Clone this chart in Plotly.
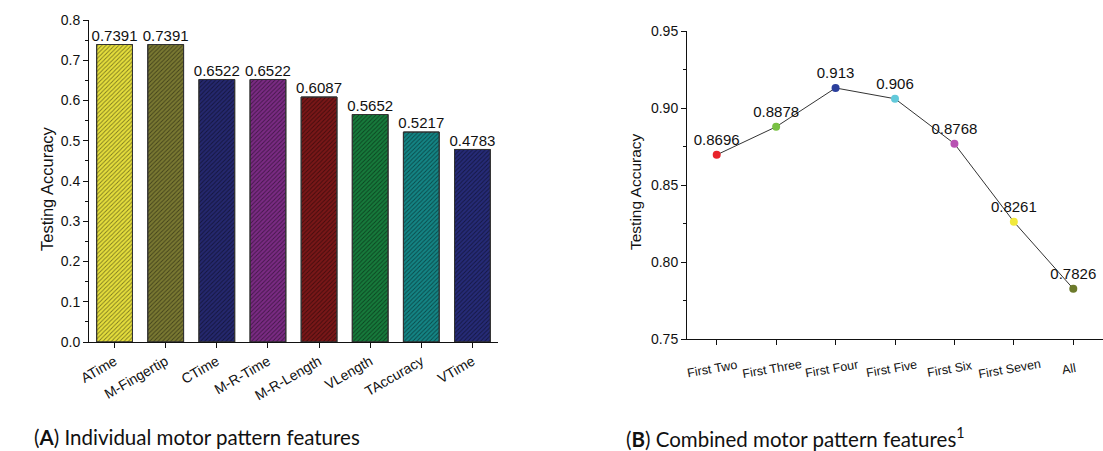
import plotly.graph_objects as go

# ---- Data ----
ind_features = ["ATime", "M-Fingertip", "CTime", "M-R-Time", "M-R-Length", "VLength", "TAccuracy", "VTime"]
ind_accuracy = [0.7391, 0.7391, 0.6522, 0.6522, 0.6087, 0.5652, 0.5217, 0.4783]
ind_colors = ["#e6df3c", "#7a7932", "#25286f", "#7b2b84", "#7a1718", "#177b3c", "#148585", "#262b78"]

comb_features = ["First Two", "First Three", "First Four", "First Five", "First Six", "First Seven", "All"]
comb_accuracy = [0.8696, 0.8878, 0.913, 0.906, 0.8768, 0.8261, 0.7826]
comb_colors = ["#e8232b", "#79c144", "#2b3f9c", "#62c9da", "#b851b2", "#f1e93c", "#6c7a2b"]

W, H = 1103, 451
def px_x(p): return p / W
def px_y(p): return 1 - p / H

FONT = "Liberation Sans, Arial, sans-serif"

fig = go.Figure()

# solid coloured bars
fig.add_trace(go.Bar(
    x=ind_features, y=ind_accuracy,
    marker=dict(color=ind_colors, line=dict(color="#333333", width=1)),
    width=0.7, showlegend=False, xaxis="x", yaxis="y",
))
# fine diagonal hatch laid over them
fig.add_trace(go.Bar(
    x=ind_features, y=ind_accuracy,
    marker=dict(color="rgba(0,0,0,0)", line=dict(color="#333333", width=1),
                pattern=dict(shape="/", bgcolor="rgba(0,0,0,0)", fgcolor="#000000", fgopacity=0.45,
                             size=3, solidity=0.3, fillmode="overlay")),
    width=0.7, showlegend=False, xaxis="x", yaxis="y", hoverinfo="skip",
))
fig.add_trace(go.Scatter(
    x=ind_features, y=ind_accuracy, mode="text",
    text=[f"{v:.4f}" for v in ind_accuracy], textposition="top center",
    textfont=dict(family=FONT, size=15, color="#111111"),
    cliponaxis=False, showlegend=False, xaxis="x", yaxis="y",
))

fig.add_trace(go.Scatter(
    x=comb_features, y=comb_accuracy, mode="lines+markers+text",
    line=dict(color="#333333", width=1),
    marker=dict(color=comb_colors, size=8),
    text=[str(v) for v in comb_accuracy], textposition="top center",
    textfont=dict(family=FONT, size=15, color="#111111"),
    cliponaxis=False, showlegend=False,
    xaxis="x2", yaxis="y2",
))

axis_common = dict(showline=True, linecolor="#111111", linewidth=1, mirror=False,
                   ticks="outside", tickcolor="#111111", ticklen=5, tickwidth=1,
                   tickfont=dict(family=FONT, size=14, color="#111111"),
                   zeroline=False, automargin=False)

# Centered, slightly rotated category labels for panel B
comb_label_annotations = [
    dict(text=name, x=name, y=0.75, xref="x2", yref="y2", xanchor="center", yanchor="middle",
         yshift=-30, xshift=-4, textangle=-10, showarrow=False,
         font=dict(family=FONT, size=12.5, color="#111111"))
    for name in comb_features
]

title_annotations = [
    dict(text="Testing Accuracy", x=px_x(47), y=px_y(189), xref="paper", yref="paper",
         xanchor="center", yanchor="middle", textangle=-90, showarrow=False,
         font=dict(family=FONT, size=16.5, color="#111111")),
    dict(text="Testing Accuracy", x=px_x(635), y=px_y(192), xref="paper", yref="paper",
         xanchor="center", yanchor="middle", textangle=-90, showarrow=False,
         font=dict(family=FONT, size=15.5, color="#111111")),
]

fig.update_layout(
    width=W, height=H,
    margin=dict(l=0, r=0, t=0, b=0),
    paper_bgcolor="white", plot_bgcolor="white",
    barmode="overlay",
    xaxis=dict(domain=[px_x(89), px_x(498)], anchor="y", range=[-0.5, 7.5],
               tickangle=-30, showgrid=False,
               minor=dict(ticks="outside", ticklen=3, tickcolor="#111111", tickwidth=1, showgrid=False),
               **axis_common),
    yaxis=dict(domain=[px_y(342), px_y(20)], anchor="x", range=[0, 0.8],
               dtick=0.1, tickformat=".1f", showgrid=False,
               minor=dict(dtick=0.05, ticks="outside", ticklen=3, tickcolor="#111111", tickwidth=1),
               **axis_common),
    xaxis2=dict(domain=[px_x(687), 1.0], anchor="y2", range=[-0.5, 6.5],
                showticklabels=False, showgrid=False,
                minor=dict(ticks="outside", ticklen=3, tickcolor="#111111", tickwidth=1,
                           showgrid=True, gridcolor="#e8e8e8", gridwidth=1),
                **axis_common),
    yaxis2=dict(domain=[px_y(339), px_y(31)], anchor="x2", range=[0.75, 0.95],
                dtick=0.05, tickformat=".2f", showgrid=False,
                minor=dict(dtick=0.025, ticks="outside", ticklen=3, tickcolor="#111111", tickwidth=1),
                **axis_common),
    annotations=comb_label_annotations + title_annotations + [
        dict(text="(<b>A</b>) Individual motor pattern features", x=px_x(32), y=px_y(437),
             xref="paper", yref="paper", xanchor="left", yanchor="middle", showarrow=False,
             font=dict(family="Lato, sans-serif", size=20.5, color="#111111")),
        dict(text="(<b>B</b>) Combined motor pattern features<sup>1</sup>", x=px_x(624), y=px_y(437),
             xref="paper", yref="paper", xanchor="left", yanchor="middle", showarrow=False,
             font=dict(family="Lato, sans-serif", size=20.5, color="#111111")),
    ],
)

fig.write_html("out.html")
